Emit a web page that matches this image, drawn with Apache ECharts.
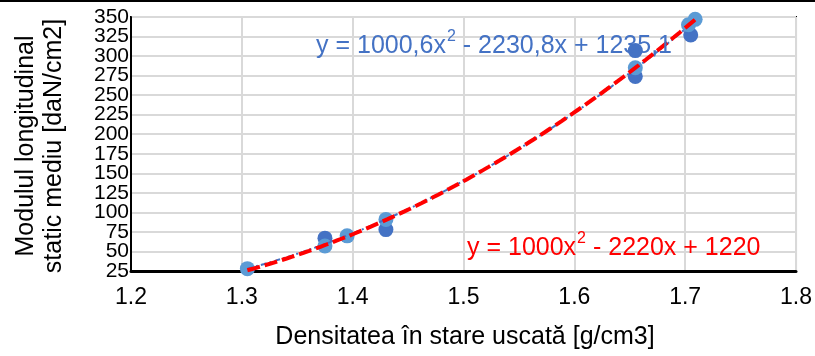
<!DOCTYPE html>
<html>
<head>
<meta charset="utf-8">
<script src="https://cdn.jsdelivr.net/npm/echarts@6/dist/echarts.min.js"></script>
<style>
  html, body { margin: 0; padding: 0; background: #fff; }
  #chart { width: 815px; height: 356px; }
</style>
</head>
<body>
<div id="chart"></div>
<script>
// Measured samples: dry density [g/cm3] vs mean static longitudinal modulus [daN/cm2]
const densityA = [1.305, 1.375, 1.395, 1.43, 1.655, 1.703, 1.709];
const modulusA = [28, 57, 70, 91, 285, 340, 347];
const densityB = [1.375, 1.43, 1.655, 1.655, 1.705];
const modulusB = [67, 78, 307, 274, 327];

// Quadratic fits: [a, b, c] for y = a*x^2 + b*x + c
const fitBlue = [1000.6, -2230.8, 1235.1];
const fitRed = [1000, -2220, 1220];
const fitRange = [1.305, 1.71];

const yTicks = [25, 50, 75, 100, 125, 150, 175, 200, 225, 250, 275, 300, 325, 350];
const xTicks = [1.2, 1.3, 1.4, 1.5, 1.6, 1.7, 1.8];

const xTitle = 'Densitatea în stare uscată [g/cm3]';
const yTitle = 'Modulul longitudinal\nstatic mediu [daN/cm2]';

function curve(coef) {
  const pts = [];
  const n = 80;
  for (let i = 0; i <= n; i++) {
    const x = fitRange[0] + (fitRange[1] - fitRange[0]) * i / n;
    pts.push([x, coef[0] * x * x + coef[1] * x + coef[2]]);
  }
  return pts;
}
const zip = (xs, ys) => xs.map((x, i) => [x, ys[i]]);
const num = v => String(v).replace('.', ',');
const term = (v, first) => first ? num(Math.abs(v)) : (v < 0 ? ' - ' : ' + ') + num(Math.abs(v));

// Equation label as rich text with a raised exponent
function equation(coef, style) {
  return '{' + style + '|y = ' + term(coef[0], true) + 'x}{' + style + 'Sup|2}{' + style + '|' +
    term(coef[1]) + 'x' + term(coef[2]) + '}';
}

const FONT = '"Liberation Sans", Arial, sans-serif';
const chart = echarts.init(document.getElementById('chart'), null, { renderer: 'canvas' });

const eqRich = {
  b: { fontSize: 25, fontFamily: FONT, fill: '#4472C4', verticalAlign: 'bottom', lineHeight: 30 },
  bSup: { fontSize: 16, fontFamily: FONT, fill: '#4472C4', verticalAlign: 'top', lineHeight: 30, padding: [0, 0, 0, 1] },
  r: { fontSize: 25, fontFamily: FONT, fill: '#FF0000', verticalAlign: 'bottom', lineHeight: 30 },
  rSup: { fontSize: 16, fontFamily: FONT, fill: '#FF0000', verticalAlign: 'top', lineHeight: 30, padding: [0, 0, 0, 1] }
};

const yMin = yTicks[0];
const yMax = yTicks[yTicks.length - 1];
const yLabelStyle = { color: '#000', fontFamily: FONT, fontSize: 21, margin: 2 };

chart.setOption({
  animation: false,
  backgroundColor: '#fff',
  grid: {
    left: 131, right: 17, top: 17, bottom: 85,
    show: true, borderColor: '#000', borderWidth: 2
  },
  xAxis: {
    type: 'value',
    min: xTicks[0], max: xTicks[xTicks.length - 1], interval: 0.1,
    axisLine: { lineStyle: { color: '#000', width: 3 } },
    axisTick: { show: false },
    axisLabel: {
      color: '#000', fontFamily: FONT, fontSize: 23, margin: 15,
      showMinLabel: true, showMaxLabel: true, hideOverlap: false,
      formatter: v => v.toFixed(1)
    },
    splitLine: { lineStyle: { color: '#d9d9d9', width: 2 } }
  },
  yAxis: [
    {
      // inner tick labels (50 … 325), grid lines and axis line
      type: 'value', min: yMin, max: yMax, interval: 25,
      axisLine: { show: true, lineStyle: { color: '#000', width: 2 } },
      axisTick: { show: false },
      axisLabel: Object.assign({ showMinLabel: false, showMaxLabel: false }, yLabelStyle),
      splitLine: { lineStyle: { color: '#d9d9d9', width: 2 } }
    },
    {
      // end tick labels (25 and 350) on the same left edge
      type: 'value', min: yMin, max: yMax, interval: 25, position: 'left', offset: 0,
      axisLine: { show: false }, axisTick: { show: false }, splitLine: { show: false },
      axisLabel: Object.assign({
        showMinLabel: true, showMaxLabel: true,
        formatter: v => (v === yMin || v === yMax) ? String(v) : ''
      }, yLabelStyle)
    }
  ],
  series: [
    {
      type: 'scatter', data: zip(densityB, modulusB), symbolSize: 15,
      itemStyle: { color: '#4472C4', opacity: 1 }, z: 2
    },
    {
      type: 'scatter', data: zip(densityA, modulusA), symbolSize: 15,
      itemStyle: { color: '#5B9BD5', opacity: 1 }, z: 3
    },
    {
      type: 'line', data: curve(fitBlue), showSymbol: false, smooth: false,
      lineStyle: { color: '#4472C4', width: 2, type: [6, 3, 2, 3] }, z: 4
    },
    {
      type: 'line', data: curve(fitRed), showSymbol: false, smooth: false,
      lineStyle: { color: '#FF0000', width: 4, type: [13, 5] }, z: 5
    }
  ],
  graphic: [
    { type: 'line', shape: { x1: 0, y1: 1, x2: 815, y2: 1 }, style: { stroke: '#000', lineWidth: 2 } },
    {
      type: 'text', x: 316, y: 44, z: 10,
      style: { text: equation(fitBlue, 'b'), rich: eqRich, textVerticalAlign: 'middle' }
    },
    {
      type: 'text', x: 467, y: 246, z: 10,
      style: { text: equation(fitRed, 'r'), rich: eqRich, textVerticalAlign: 'middle' }
    },
    {
      type: 'text', x: 465, y: 337,
      style: { text: xTitle, fill: '#000', font: '25px ' + FONT, textAlign: 'center', textVerticalAlign: 'middle' }
    },
    {
      type: 'text', x: 40, y: 146, rotation: Math.PI / 2,
      style: { text: yTitle, fill: '#000', font: '25px ' + FONT, lineHeight: 28, textAlign: 'center', textVerticalAlign: 'middle' }
    }
  ]
});
</script>
</body>
</html>
